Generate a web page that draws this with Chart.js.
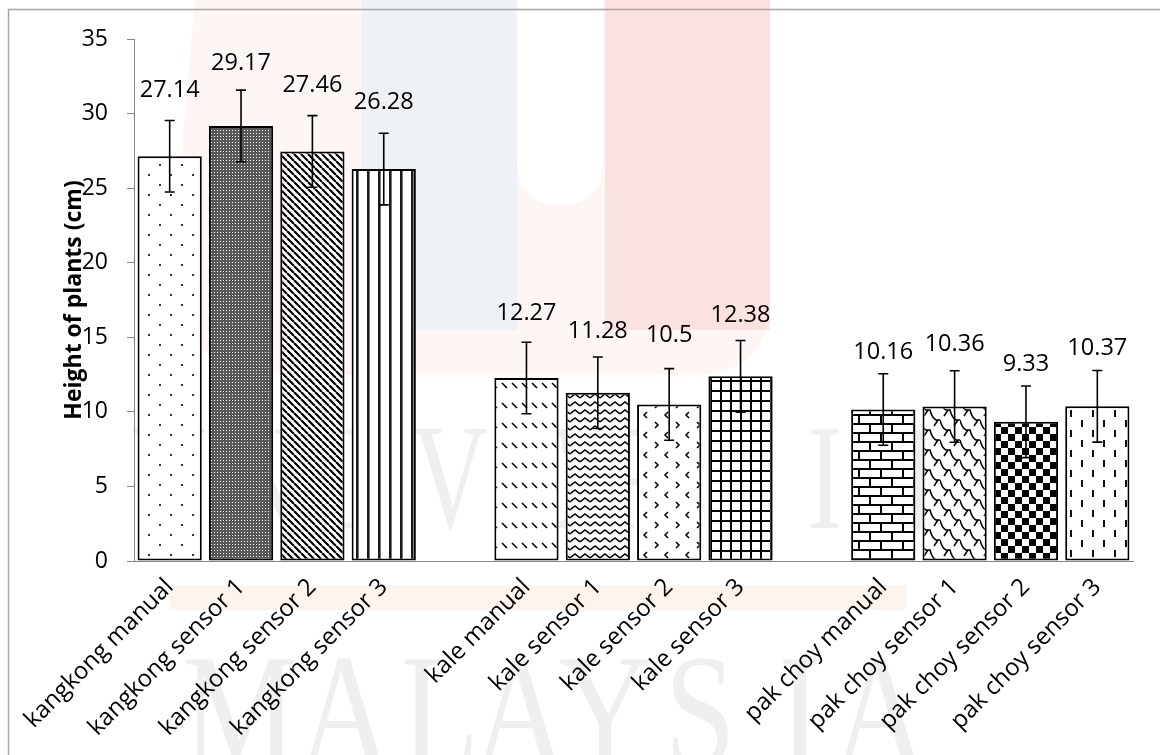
<!DOCTYPE html>
<html>
<head>
<meta charset="utf-8">
<script src="https://cdn.jsdelivr.net/npm/chart.js@4.4.1/dist/chart.umd.min.js"></script>
<style>
  html, body { margin: 0; padding: 0; background: #fff; }
  #caixa { width: 1160px; height: 755px; }
</style>
</head>
<body>
<div id="caixa"><canvas id="grafico" width="1160" height="755"></canvas></div>
<script>
// categorias (com um espaço vazio entre cada planta)
const categorias = [
  'kangkong manual', 'kangkong sensor 1', 'kangkong sensor 2', 'kangkong sensor 3', '',
  'kale manual', 'kale sensor 1', 'kale sensor 2', 'kale sensor 3', '',
  'pak choy manual', 'pak choy sensor 1', 'pak choy sensor 2', 'pak choy sensor 3'
];
const alturas = [27.14, 29.17, 27.46, 26.28, null, 12.27, 11.28, 10.5, 12.38, null, 10.16, 10.36, 9.33, 10.37];
const erros = [2.4, 2.4, 2.4, 2.4, null, 2.4, 2.4, 2.4, 2.4, null, 2.4, 2.4, 2.4, 2.4];
const eixoY = { min: 0, max: 35, passo: 5 };

// distância (px) do rótulo de valor acima do topo da barra
const ELEVACAO = [66, 63, 66, 67, 0, 65, 61, 69, 61, 0, 57, 62, 58, 58];

Chart.defaults.font.family = "'Open Sans', sans-serif";

function ladrilho(w, h, desenhar) {
  const c = document.createElement('canvas');
  c.width = w; c.height = h;
  const g = c.getContext('2d');
  g.fillStyle = '#fff';
  g.fillRect(0, 0, w, h);
  g.fillStyle = '#000';
  g.strokeStyle = '#000';
  desenhar(g, w, h);
  return g.createPattern(c, 'repeat');
}

const padroes = [
  // pontos espaçados
  ladrilho(22, 20, g => { g.fillStyle = '#333'; g.fillRect(5, 4, 2, 2); g.fillRect(16, 14, 2, 2); }),
  // trama fina escura
  ladrilho(3, 3, g => { g.fillStyle = '#585858'; g.fillRect(0, 0, 3, 3); g.fillStyle = '#fff'; g.fillRect(1, 1, 1, 1); }),
  // diagonais
  ladrilho(7, 7, g => {
    g.lineWidth = 2.2;
    g.beginPath();
    for (const k of [-7, 0, 7]) { g.moveTo(k, 0); g.lineTo(k + 7, 7); }
    g.stroke();
  }),
  // verticais
  ladrilho(11, 10, g => { g.fillStyle = '#1a1a1a'; g.fillRect(4, 0, 2.6, 10); }),
  null,
  // traços diagonais em fila
  ladrilho(10, 20, g => { g.lineWidth = 1.6; g.beginPath(); g.moveTo(2, 3); g.lineTo(7, 8); g.stroke(); }),
  // ondas
  ladrilho(10, 8, g => {
    g.lineWidth = 1.6;
    g.beginPath(); g.moveTo(0, 6); g.lineTo(5, 2); g.lineTo(10, 6); g.stroke();
  }),
  // divisas < >
  ladrilho(21, 20, g => {
    g.lineWidth = 1.5;
    g.beginPath();
    g.moveTo(4, 2); g.lineTo(7, 5); g.lineTo(4, 8);
    g.moveTo(17, 12); g.lineTo(14, 15); g.lineTo(17, 18);
    g.stroke();
  }),
  // grade
  ladrilho(10, 10, g => { g.fillRect(0, 0, 10, 2); g.fillRect(0, 0, 2, 10); }),
  null,
  // tijolos
  ladrilho(22, 18, g => {
    g.fillRect(0, 0, 22, 2); g.fillRect(0, 9, 22, 2);
    g.fillRect(0, 0, 2, 9); g.fillRect(11, 9, 2, 9);
  }),
  // telhas
  ladrilho(20, 20, g => {
    g.lineWidth = 1.5;
    g.beginPath();
    for (const dy of [-20, 0, 20]) {
      g.moveTo(0, dy); g.quadraticCurveTo(2, dy + 8, 6, dy + 10);
      g.lineTo(10, dy + 10); g.quadraticCurveTo(12, dy + 18, 16, dy + 20); g.lineTo(20, dy + 20);
      g.moveTo(8, dy + 10); g.lineTo(4, dy + 16);
      g.moveTo(18, dy + 20); g.lineTo(14, dy + 26);
    }
    g.stroke();
  }),
  // xadrez
  ladrilho(14, 14, g => { g.fillRect(0, 0, 7, 7); g.fillRect(7, 7, 7, 7); }),
  // tracejado vertical
  ladrilho(22, 20, g => { g.fillStyle = '#111'; g.fillRect(3, 0, 2, 7); g.fillRect(14, 10, 2, 7); })
];

// fundo: marca-d'água clara
const marcaDagua = {
  id: 'marcaDagua',
  beforeDraw(chart) {
    const ctx = chart.ctx;
    ctx.save();
    ctx.fillStyle = '#fff';
    ctx.fillRect(0, 0, chart.width, chart.height);

    ctx.fillStyle = 'rgba(235, 120, 110, 0.07)';
    ctx.beginPath();
    ctx.moveTo(195, 0);
    ctx.lineTo(770, 0);
    ctx.lineTo(770, 300);
    ctx.quadraticCurveTo(770, 375, 690, 375);
    ctx.lineTo(280, 375);
    ctx.quadraticCurveTo(172, 375, 172, 260);
    ctx.closePath();
    ctx.fill();

    ctx.fillStyle = 'rgba(230, 95, 75, 0.13)';
    ctx.fillRect(605, 0, 165, 330);

    ctx.fillStyle = '#eef2f7';
    ctx.fillRect(362, 0, 155, 330);

    ctx.fillStyle = '#fff';
    ctx.beginPath();
    ctx.moveTo(517, 0);
    ctx.lineTo(603, 0);
    ctx.lineTo(603, 160);
    ctx.quadraticCurveTo(603, 205, 560, 205);
    ctx.quadraticCurveTo(517, 205, 517, 160);
    ctx.closePath();
    ctx.fill();

    ctx.fillStyle = '#fdf4ee';
    ctx.fillRect(170, 585, 736, 25);

    ctx.fillStyle = '#efefef';
    ctx.textAlign = 'center';
    ctx.textBaseline = 'alphabetic';
    ctx.font = "150px 'Liberation Serif', serif";
    const linha1 = 'UNIVERSITI';
    for (let i = 0; i < linha1.length; i++) {
      ctx.save();
      ctx.translate(169 + i * 93.7, 528);
      ctx.scale(0.7, 1);
      ctx.fillText(linha1[i], 0, 0);
      ctx.restore();
    }
    ctx.font = "160px 'Liberation Serif', serif";
    const linha2 = 'MALAYSIA';
    const xs2 = [240, 345, 440, 520, 605, 700, 800, 880];
    for (let i = 0; i < linha2.length; i++) {
      ctx.save();
      ctx.translate(xs2[i], 765);
      ctx.scale(0.8, 1);
      ctx.fillText(linha2[i], 0, 0);
      ctx.restore();
    }
    ctx.restore();
  },
  afterDraw(chart) {
    const ctx = chart.ctx;
    ctx.save();
    ctx.strokeStyle = '#a6a6a6';
    ctx.lineWidth = 1.5;
    ctx.beginPath();
    ctx.moveTo(8.5, chart.height);
    ctx.lineTo(8.5, 9.5);
    ctx.lineTo(chart.width, 9.5);
    ctx.stroke();
    ctx.restore();
  }
};

// barras de erro e rótulos de valor
const barrasErro = {
  id: 'barrasErro',
  afterDatasetsDraw(chart) {
    const ctx = chart.ctx;
    const y = chart.scales.y;
    const meta = chart.getDatasetMeta(0);
    ctx.save();
    meta.data.forEach((barra, i) => {
      const v = alturas[i];
      if (v == null) return;
      const x = barra.x;
      const topo = y.getPixelForValue(v + erros[i]);
      const base = y.getPixelForValue(v - erros[i]);
      ctx.strokeStyle = '#000';
      ctx.lineWidth = 1.6;
      ctx.beginPath();
      ctx.moveTo(x, topo); ctx.lineTo(x, base);
      ctx.moveTo(x - 5, topo); ctx.lineTo(x + 5, topo);
      ctx.moveTo(x - 5, base); ctx.lineTo(x + 5, base);
      ctx.stroke();

      ctx.fillStyle = '#000';
      ctx.font = "23.5px 'Open Sans', sans-serif";
      ctx.textAlign = 'center';
      ctx.textBaseline = 'middle';
      ctx.fillText(String(v), x, barra.y - ELEVACAO[i]);
    });
    ctx.restore();
  }
};

new Chart(document.getElementById('grafico'), {
  type: 'bar',
  data: {
    labels: categorias,
    datasets: [{
      data: alturas,
      backgroundColor: padroes,
      borderColor: '#000',
      borderWidth: 2,
      borderSkipped: false,
      barPercentage: 0.9,
      categoryPercentage: 1
    }]
  },
  options: {
    responsive: false,
    animation: false,
    devicePixelRatio: 1,
    layout: { padding: { left: 0, right: 27, top: 39, bottom: 0 } },
    plugins: { legend: { display: false }, tooltip: { enabled: false } },
    scales: {
      x: {
        grid: { display: false },
        border: { color: '#868686', width: 1 },
        ticks: { maxRotation: 45, minRotation: 45, autoSkip: false, color: '#000', font: { size: 24 }, padding: 4 },
        afterFit(s) { s.height = 194; }
      },
      y: {
        min: eixoY.min,
        max: eixoY.max,
        ticks: { stepSize: eixoY.passo, color: '#000', font: { size: 23 }, padding: 19 },
        grid: { drawOnChartArea: false, tickLength: 7, color: '#868686' },
        border: { color: '#868686', width: 1 },
        title: {
          display: true,
          text: 'Height of plants (cm)',
          color: '#000',
          font: { size: 23, weight: 'bold' },
          padding: { top: 61 }
        },
        afterFit(s) { s.width = 134; }
      }
    }
  },
  plugins: [marcaDagua, barrasErro]
});
</script>
</body>
</html>
